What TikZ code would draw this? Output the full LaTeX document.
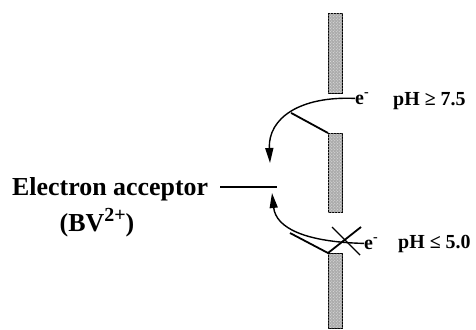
\documentclass[tikz,border=0pt]{standalone}
\usepackage{fontspec}
\setmainfont{Liberation Serif}
\usetikzlibrary{arrows.meta,patterns}

\begin{document}
\begin{tikzpicture}[x=1bp, y=-1bp, font=\bfseries,
    bar/.style={draw, line width=0.8bp, fill=gray!65,
      postaction={pattern=crosshatch dots, pattern color=gray!20},
      minimum width=14bp, inner sep=0, anchor=north west},
    curve/.style={line width=1.4bp, -{Triangle[length=15bp, width=8bp]}},
    tick/.style={line width=1.8bp},
    lbl/.style={inner sep=0, font=\fontsize{20}{22}\selectfont\bfseries}]
  \useasboundingbox (0,0) rectangle (476,329);
  % electrode pieces
  \node[bar, minimum height=80bp] (upbar) at (328,13) {};
  \node[bar, minimum height=79bp] (midbar) at (328,133) {};
  \node[bar, minimum height=75bp] (lowbar) at (328,253) {};
  % acceptor level
  \node[inner sep=0, anchor=base west, font=\fontsize{26}{28}\selectfont\bfseries]
    (acc) at (12,195) {Electron acceptor};
  \node[inner sep=0, anchor=base, font=\fontsize{26}{28}\selectfont\bfseries]
    (bv) at (97,231) {(BV\raisebox{0.38em}{\fontsize{20}{20}\selectfont 2+})};
  \coordinate (lvla) at (220,187);
  \coordinate (lvlb) at (277,187);
  \draw[line width=2.6bp] (lvla) -- (lvlb);
  % electrons and pH labels
  \node[lbl, anchor=base west] (e1) at (355,104) {e\textsuperscript{-}};
  \node[lbl, anchor=base west] (ph1) at (393,105) {pH ≥ 7.5};
  \node[lbl, anchor=base west] (e2) at (364,249) {e\textsuperscript{-}};
  \node[lbl, anchor=base west] (ph2) at (398,248) {pH ≤ 5.0};
  % transfer at high pH
  \draw[curve] (e1.west) .. controls (300,96) and (268,118) ..
    coordinate[pos=0.5] (k1) (270,163);
  \draw[tick] (k1) -- (midbar.north west);
  % blocked transfer at low pH
  \draw[curve] (e2.west) .. controls (305,242) and (276,228) .. (272,193);
  \coordinate (k2) at (290,233);
  \coordinate (xa) at (332,227);
  \coordinate (xb) at (360,255);
  \coordinate (xc) at (361,227);
  \draw[tick] (k2) -- (lowbar.north west) -- (xc);
  \draw[line width=1.4bp] (xa) -- (xb);
\end{tikzpicture}
\end{document}
